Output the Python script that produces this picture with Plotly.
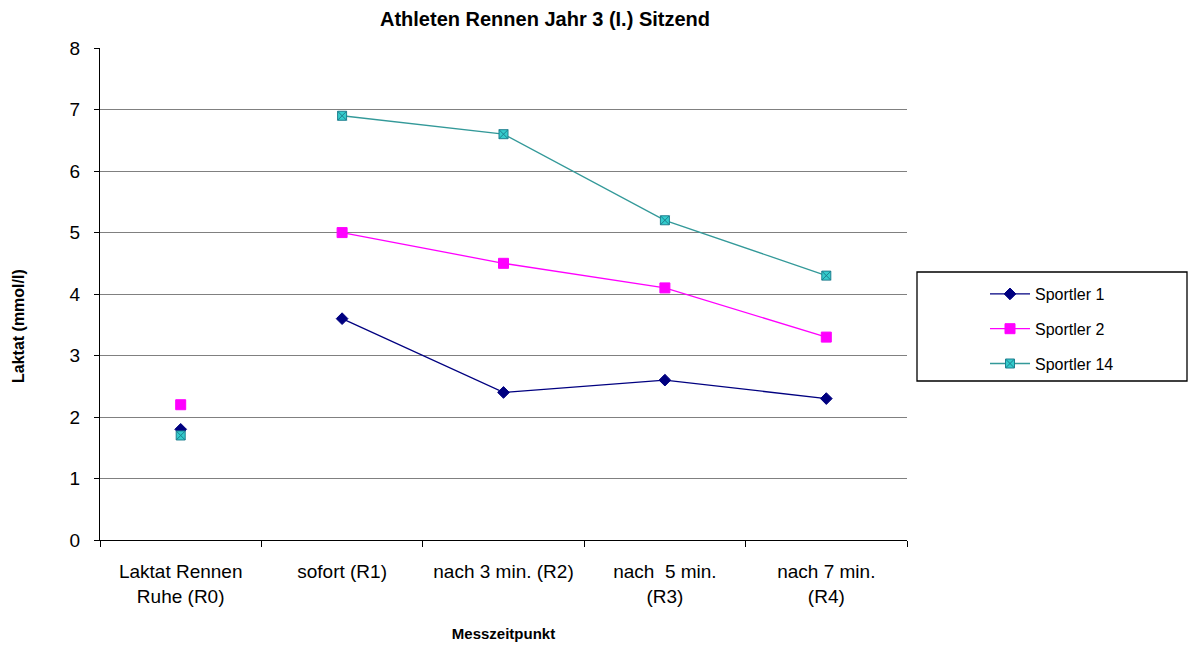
import plotly.graph_objects as go

categories = ["Laktat Rennen<br>Ruhe (R0)", "sofort (R1)", "nach 3 min. (R2)",
              "nach  5 min.<br>(R3)", "nach 7 min.<br>(R4)"]
series_names = ["Sportler 1", "Sportler 2", "Sportler 14"]
sportler_1 = [1.8, 3.6, 2.4, 2.6, 2.3]
sportler_2 = [2.2, 5.0, 4.5, 4.1, 3.3]
sportler_14 = [1.7, 6.9, 6.6, 5.2, 4.3]

styles = [
    dict(line="#000080", fill="#000080", edge="#000080", symbol="diamond", size=9),
    dict(line="#FF00FF", fill="#FF00FF", edge="#FF00FF", symbol="square", size=10),
    dict(line="#339999", fill="#33CCCC", edge="#1F7F8F", symbol="square-x", size=9),
]

FONT = "Liberation Sans, Arial, sans-serif"
W, H = 1190, 646
L, R, T, B = 100, 283, 48, 106
PW, PH = W - L - R, H - T - B

fig = go.Figure()

for name, vals, st in zip(series_names, [sportler_1, sportler_2, sportler_14], styles):
    marker = dict(symbol=st["symbol"], size=st["size"], color=st["fill"],
                  line=dict(color=st["edge"], width=1))
    # resting value stands alone, the post-race values are joined by a line
    fig.add_trace(go.Scatter(x=categories[:1], y=vals[:1], mode="markers",
                             marker=marker, name=name, legendgroup=name,
                             showlegend=False))
    fig.add_trace(go.Scatter(x=categories[1:], y=vals[1:], mode="lines+markers",
                             line=dict(color=st["line"], width=1.3),
                             marker=marker, name=name, legendgroup=name))

fig.update_layout(
    width=W, height=H,
    margin=dict(l=L, r=R, t=T, b=B, autoexpand=False),
    paper_bgcolor="white", plot_bgcolor="white",
    font=dict(family=FONT, size=19, color="black"),
    title=dict(text="<b>Athleten Rennen Jahr 3 (I.) Sitzend</b>",
               font=dict(size=20), x=545 / W, xanchor="center",
               y=1 - 19 / H, yanchor="middle"),
    showlegend=True,
    legend=dict(x=(985 - L) / PW, y=(H - B - 277) / PH, xanchor="left", yanchor="top",
                font=dict(size=16), bgcolor="rgba(0,0,0,0)", borderwidth=0,
                tracegroupgap=11, itemwidth=40),
    shapes=[dict(type="rect", xref="paper", yref="paper",
                 x0=(917 - L) / PW, x1=(1187 - L) / PW,
                 y0=(H - B - 272) / PH, y1=(H - B - 381) / PH,
                 line=dict(color="black", width=1.3), fillcolor="rgba(0,0,0,0)")],
    annotations=[dict(text="<b>Laktat (mmol/l)</b>", textangle=-90,
                      xref="paper", yref="paper", x=(18 - L) / PW, y=(H - B - 326) / PH,
                      xanchor="center", yanchor="middle", showarrow=False,
                      font=dict(size=16))],
)

fig.update_xaxes(
    type="category", categoryorder="array", categoryarray=categories,
    range=[-0.5, 4.5], tickson="boundaries", ticks="outside", ticklen=6,
    tickcolor="black", showline=True, linecolor="black", linewidth=1.3,
    showgrid=False, tickfont=dict(size=19), ticklabelstandoff=14, automargin=False,
    title=dict(text="<b>Messzeitpunkt</b>", font=dict(size=15), standoff=22),
)
fig.update_yaxes(
    range=[0, 8.002], dtick=1, ticks="outside", ticklen=5, tickcolor="black",
    showline=True, linecolor="black", linewidth=1.3,
    showgrid=True, gridcolor="#808080", gridwidth=1, zeroline=False,
    tickfont=dict(size=19), ticklabelstandoff=10, automargin=False,
)

fig.write_html("out.html")
